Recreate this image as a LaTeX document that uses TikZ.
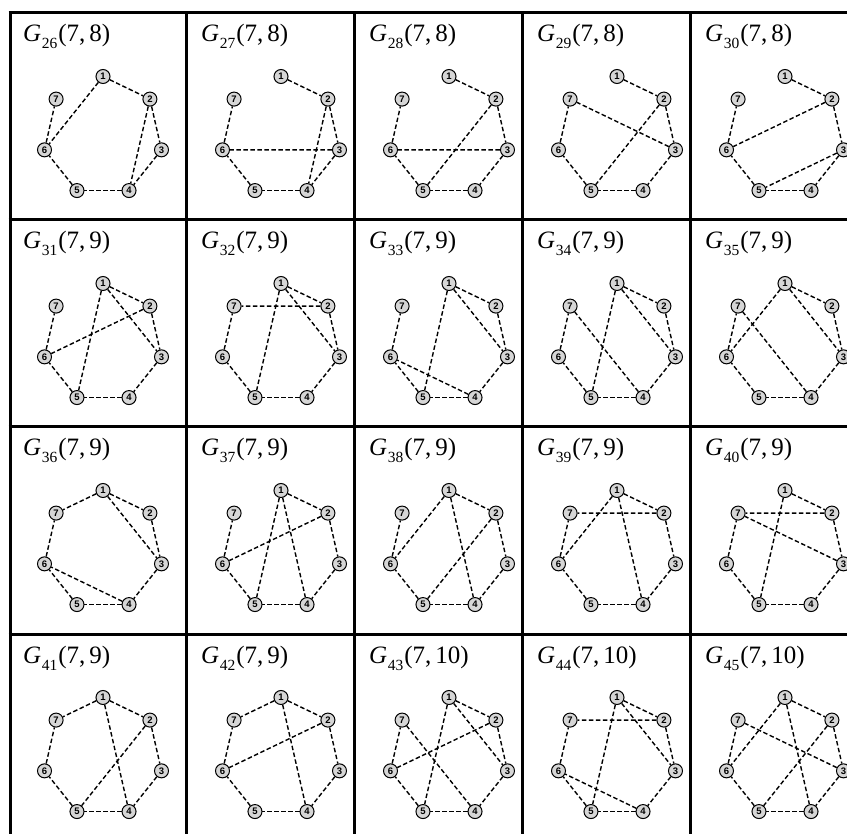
\documentclass[tikz,border=0pt]{standalone}
\usepackage{fontspec}
\setmainfont{Liberation Serif}
\newfontfamily\labelfont{Liberation Sans}
\usepackage{tikz}
\usetikzlibrary{calc}
\definecolor{vertexgray}{HTML}{D6D6D6}

% one cell of the table: #1 index, #2 left, #3 top, #4 edge count, #5 edges
\newcommand{\graphcell}[5]{%
  \node[title] (t#1) at (#2+15,#3+29) {\textit{G}\kern0.5pt\raisebox{-0.28em}{\fontsize{15.5}{16}\selectfont #1}\kern1pt(7,\,#4)};
  \foreach \k in {1,...,7}
    \node[vertex] (g#1-\k) at ($(#2+95,#3+123.5)+({-90+(\k-1)*360/7}:60)$) {\k};
  \foreach \a/\b in {#5}
    \draw[edge] (g#1-\a) -- (g#1-\b);
}

\begin{document}
\begin{tikzpicture}[
  x=1pt, y=-1pt,
  title/.style={anchor=base west, inner sep=0pt, font=\fontsize{25}{30}\selectfont},
  vertex/.style={circle, draw, line width=1pt, fill=vertexgray, minimum size=14pt, inner sep=0pt, font=\labelfont\bfseries\fontsize{9.5}{10}\selectfont},
  edge/.style={line width=1.4pt, dash pattern=on 4.5pt off 2.5pt},
  rule/.style={line width=3pt}
]
  \useasboundingbox (0,0) rectangle (847,834);
  \clip (0,0) rectangle (847,834);

  % table rules
  \foreach \y in {13,220,427,634,841}
    \draw[rule] (8.5,\y) -- (859.5,\y);
  \foreach \x in {10,186,354,522,690,858}
    \draw[rule] (\x,13) -- (\x,841);

  % row 1
  \graphcell{26}{8}{13}{8}{1/2,1/6,2/3,2/4,3/4,4/5,5/6,6/7}
  \graphcell{27}{186}{13}{8}{1/2,2/3,2/4,3/4,3/6,4/5,5/6,6/7}
  \graphcell{28}{354}{13}{8}{1/2,2/3,2/5,3/4,3/6,4/5,5/6,6/7}
  \graphcell{29}{522}{13}{8}{1/2,2/3,2/5,3/4,3/7,4/5,5/6,6/7}
  \graphcell{30}{690}{13}{8}{1/2,2/3,2/6,3/4,3/5,4/5,5/6,6/7}

  % row 2
  \graphcell{31}{8}{220}{9}{1/2,1/3,1/5,2/3,2/6,3/4,4/5,5/6,6/7}
  \graphcell{32}{186}{220}{9}{1/2,1/3,1/5,2/3,2/7,3/4,4/5,5/6,6/7}
  \graphcell{33}{354}{220}{9}{1/2,1/3,1/5,2/3,3/4,4/5,4/6,5/6,6/7}
  \graphcell{34}{522}{220}{9}{1/2,1/3,1/5,2/3,3/4,4/5,4/7,5/6,6/7}
  \graphcell{35}{690}{220}{9}{1/2,1/3,1/6,2/3,3/4,4/5,4/7,5/6,6/7}

  % row 3
  \graphcell{36}{8}{427}{9}{1/2,1/3,1/7,2/3,3/4,4/5,4/6,5/6,6/7}
  \graphcell{37}{186}{427}{9}{1/2,1/4,1/5,2/3,2/6,3/4,4/5,5/6,6/7}
  \graphcell{38}{354}{427}{9}{1/2,1/4,1/6,2/3,2/5,3/4,4/5,5/6,6/7}
  \graphcell{39}{522}{427}{9}{1/2,1/4,1/6,2/3,2/7,3/4,4/5,5/6,6/7}
  \graphcell{40}{690}{427}{9}{1/2,1/5,2/3,2/7,3/4,3/7,4/5,5/6,6/7}

  % row 4
  \graphcell{41}{8}{634}{9}{1/2,1/4,1/7,2/3,2/5,3/4,4/5,5/6,6/7}
  \graphcell{42}{186}{634}{9}{1/2,1/4,1/7,2/3,2/6,3/4,4/5,5/6,6/7}
  \graphcell{43}{354}{634}{10}{1/2,1/3,1/5,2/3,2/6,3/4,4/5,4/7,5/6,6/7}
  \graphcell{44}{522}{634}{10}{1/2,1/3,1/5,2/3,2/7,3/4,4/5,4/6,5/6,6/7}
  \graphcell{45}{690}{634}{10}{1/2,1/4,1/6,2/3,2/5,3/4,3/7,4/5,5/6,6/7}
\end{tikzpicture}
\end{document}
